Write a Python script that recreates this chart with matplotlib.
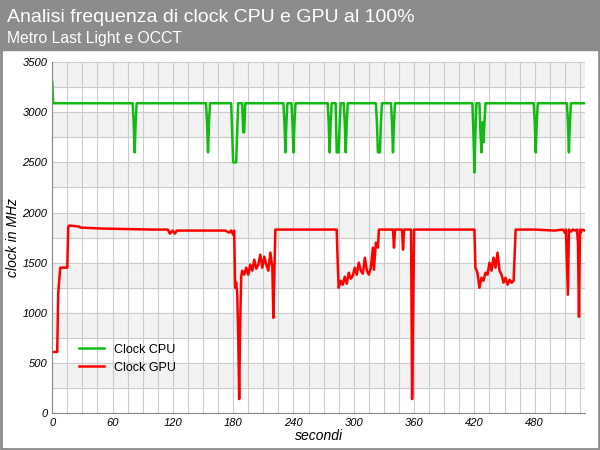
import matplotlib.pyplot as plt
from matplotlib.ticker import MultipleLocator

plt.rcParams["font.family"] = ["Liberation Sans", "DejaVu Sans"]

title = "Analisi frequenza di clock CPU e GPU al 100%"
subtitle = "Metro Last Light e OCCT"

cpu_t = [0, 1, 2, 80, 81, 82, 83, 84, 153, 154, 155, 156, 157, 178, 179, 180, 183, 184, 185,
         189, 190, 191, 192, 230, 231, 232, 233, 234, 238, 239, 240, 241, 242, 274, 275, 276,
         277, 278, 282, 283, 285, 286, 287, 290, 291, 292, 293, 294, 322, 323, 324, 326, 327,
         328, 337, 338, 339, 340, 341, 418, 419, 420, 421, 422, 425, 426, 427, 428, 429, 430,
         431, 432, 479, 480, 481, 482, 483, 512, 513, 514, 515, 516, 530]
cpu_v = [3300, 3090, 3090, 3090, 2900, 2600, 2900, 3090, 3090, 2900, 2600, 2900, 3090, 3090,
         2800, 2500, 2500, 2800, 3090, 3090, 2800, 2800, 3090, 3090, 2900, 2600, 2900, 3090,
         3090, 2900, 2600, 2900, 3090, 3090, 2900, 2600, 2900, 3090, 3090, 2600, 2600, 2900,
         3090, 3090, 2900, 2600, 2900, 3090, 3090, 2900, 2600, 2600, 2900, 3090, 3090, 2900,
         2600, 2900, 3090, 3090, 2800, 2400, 2800, 3090, 3090, 2800, 2600, 2900, 2700, 2900,
         3090, 3090, 3090, 2900, 2600, 2900, 3090, 3090, 2900, 2600, 2900, 3090, 3090]

# GPU clock samples: (second, MHz)
gpu_points = [
    (0, 610), (5, 610), (6, 1200), (8, 1450), (15, 1450), (16, 1860), (17, 1870),
    (27, 1860), (28, 1850), (50, 1840), (100, 1830), (115, 1830), (117, 1790),
    (120, 1820), (122, 1790), (124, 1820), (150, 1820), (172, 1820), (176, 1800),
    (178, 1820), (180, 1780), (181, 1820), (182, 1250), (183, 1300), (184, 1200),
    (185, 800), (186, 140), (187, 900), (188, 1360), (189, 1420), (191, 1380),
    (193, 1450), (195, 1380), (197, 1480), (199, 1420), (201, 1530), (203, 1440),
    (205, 1480), (207, 1580), (209, 1450), (211, 1560), (213, 1480), (215, 1420),
    (217, 1600), (219, 1450), (220, 950), (222, 1830), (283, 1830), (284, 1500),
    (285, 1250), (287, 1320), (289, 1280), (291, 1360), (293, 1290), (295, 1400),
    (297, 1340), (299, 1370), (301, 1450), (303, 1380), (305, 1500), (307, 1420),
    (309, 1390), (311, 1550), (313, 1420), (315, 1380), (317, 1450), (319, 1650),
    (320, 1430), (322, 1700), (324, 1650), (325, 1830), (338, 1830), (339, 1830),
    (340, 1650), (341, 1830), (347, 1830), (348, 1830), (349, 1630), (350, 1830),
    (357, 1830), (358, 140), (359, 1000), (360, 1830), (420, 1830), (421, 1450),
    (423, 1400), (425, 1250), (427, 1350), (429, 1320), (431, 1400), (433, 1380),
    (435, 1500), (437, 1420), (439, 1550), (441, 1450), (443, 1600), (445, 1420),
    (447, 1380), (449, 1300), (451, 1350), (453, 1280), (455, 1330), (457, 1300),
    (459, 1320), (461, 1830), (480, 1830), (500, 1820), (508, 1830), (510, 1800),
    (511, 1830), (513, 1180), (514, 1830), (516, 1810), (518, 1830), (520, 1820),
    (522, 1830), (523, 1700), (524, 960), (525, 1830), (526, 1800), (527, 1830),
    (530, 1820),
]
gpu_t = [p[0] for p in gpu_points]
gpu_v = [p[1] for p in gpu_points]

fig = plt.figure(figsize=(6, 4.5), dpi=100, facecolor="white")
fig.patches.append(plt.Rectangle((0, 0.889), 1, 0.111, transform=fig.transFigure,
                                 color="#8c8c8c", zorder=0))
fig.patches.append(plt.Rectangle((0.002, 0.002), 0.996, 0.996, transform=fig.transFigure,
                                 fill=False, edgecolor="#8c8c8c", linewidth=2))
fig.text(0.012, 0.962, title, color="white", fontsize=14, va="center")
fig.text(0.012, 0.915, subtitle, color="white", fontsize=11.3, va="center")

ax = fig.add_axes([0.087, 0.082, 0.888, 0.78])
for i in range(0, 14):
    if i % 2 == 1:
        ax.axhspan(i * 250, (i + 1) * 250, color="#f2f2f2", zorder=0)
ax.plot(cpu_t, cpu_v, color="#11bb11", linewidth=1.8, label="Clock CPU")
ax.plot(gpu_t, gpu_v, color="#ff0000", linewidth=1.8, label="Clock GPU")
ax.set_xlim(0, 530)
ax.set_ylim(0, 3500)
ax.xaxis.set_major_locator(MultipleLocator(60))
ax.xaxis.set_minor_locator(MultipleLocator(15))
ax.yaxis.set_major_locator(MultipleLocator(500))
ax.yaxis.set_minor_locator(MultipleLocator(250))
ax.grid(which="both", color="#cccccc", linewidth=0.8)
ax.set_axisbelow(True)
ax.tick_params(which="both", length=0, labelsize=8)
for lab in ax.get_xticklabels() + ax.get_yticklabels():
    lab.set_style("italic")
for s in ["top", "right"]:
    ax.spines[s].set_visible(False)
for s in ["left", "bottom"]:
    ax.spines[s].set_color("#888888")
ax.set_xlabel("secondi", style="italic", fontsize=10, labelpad=1)
ax.set_ylabel("clock in MHz", style="italic", fontsize=10, labelpad=2)
ax.legend(loc="lower left", bbox_to_anchor=(0.03, 0.08), frameon=False, fontsize=9)

fig.savefig("out.png", dpi=100)
